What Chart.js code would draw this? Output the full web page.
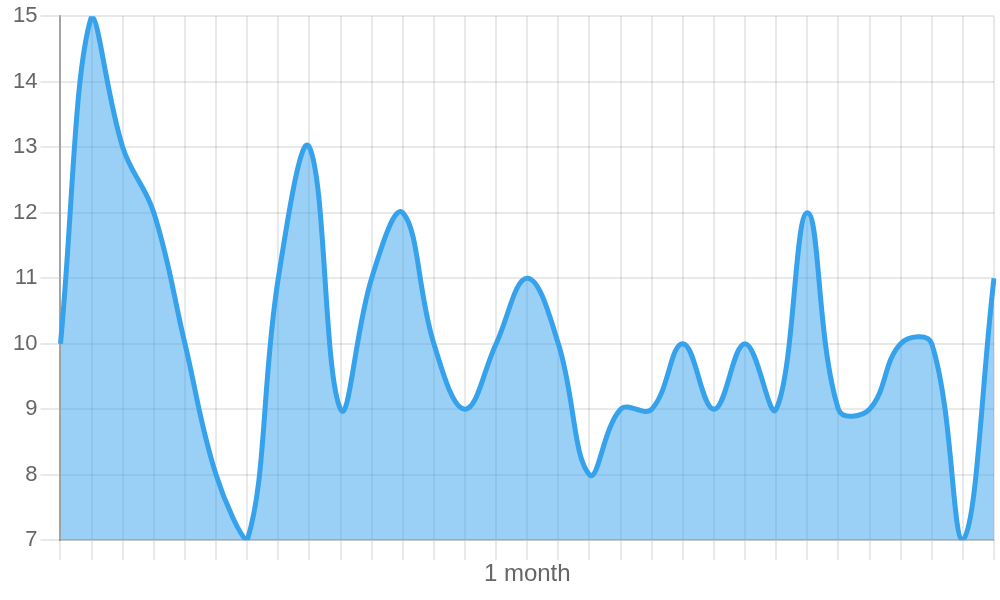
<!DOCTYPE html>
<html>
<head>
<meta charset="utf-8">
<script src="https://cdn.jsdelivr.net/npm/chart.js@4"></script>
<style>
html,body{margin:0;padding:0;background:#fff;}
#wrap{width:1000px;height:600px;}
</style>
</head>
<body>
<div id="wrap"><canvas id="c" width="1000" height="600"></canvas></div>
<script>
const categories = ['','','','','','','','','','','','','','','','','','','','','','','','','','','','','','',''];
const values = [10,15,13,12,10,8,7,11,13,9,11,12,10,9,10,11,10,8,9,9,10,9,10,9,12,9,9,10,10,7,11];
const yTicks = {min:7, max:15, step:1};
const xTitle = '1 month';

Chart.defaults.font.family = "'Liberation Sans', Arial, sans-serif";
Chart.defaults.font.size = 22;
Chart.defaults.color = '#666';

new Chart(document.getElementById('c'), {
  type: 'line',
  data: {
    labels: categories,
    datasets: [{
      data: values,
      borderColor: 'rgb(54,162,235)',
      backgroundColor: 'rgba(54,162,235,0.5)',
      borderWidth: 5,
      fill: true,
      tension: 0.4,
      pointRadius: 0
    }]
  },
  options: {
    responsive: false,
    animation: false,
    plugins: {legend:{display:false}, tooltip:{enabled:false}},
    layout: {padding:{left:10, right:6}},
    scales: {
      x: {
        grid: {tickLength: 20, color:'rgba(0,0,0,0.085)', lineWidth: 2},
        border: {color:'rgba(0,0,0,0.15)', width: 2},
        ticks: {display:false},
        title: {display:true, text:xTitle, color:'#666', font:{size:24}, padding:{top:0, bottom:11}}
      },
      y: {
        min: yTicks.min, max: yTicks.max,
        ticks: {stepSize: yTicks.step, padding:3},
        grid: {tickLength: 20, color:'rgba(0,0,0,0.085)', lineWidth: 2},
        border: {color:'rgba(0,0,0,0.3)', width: 2}
      }
    }
  }
});
</script>
</body>
</html>
